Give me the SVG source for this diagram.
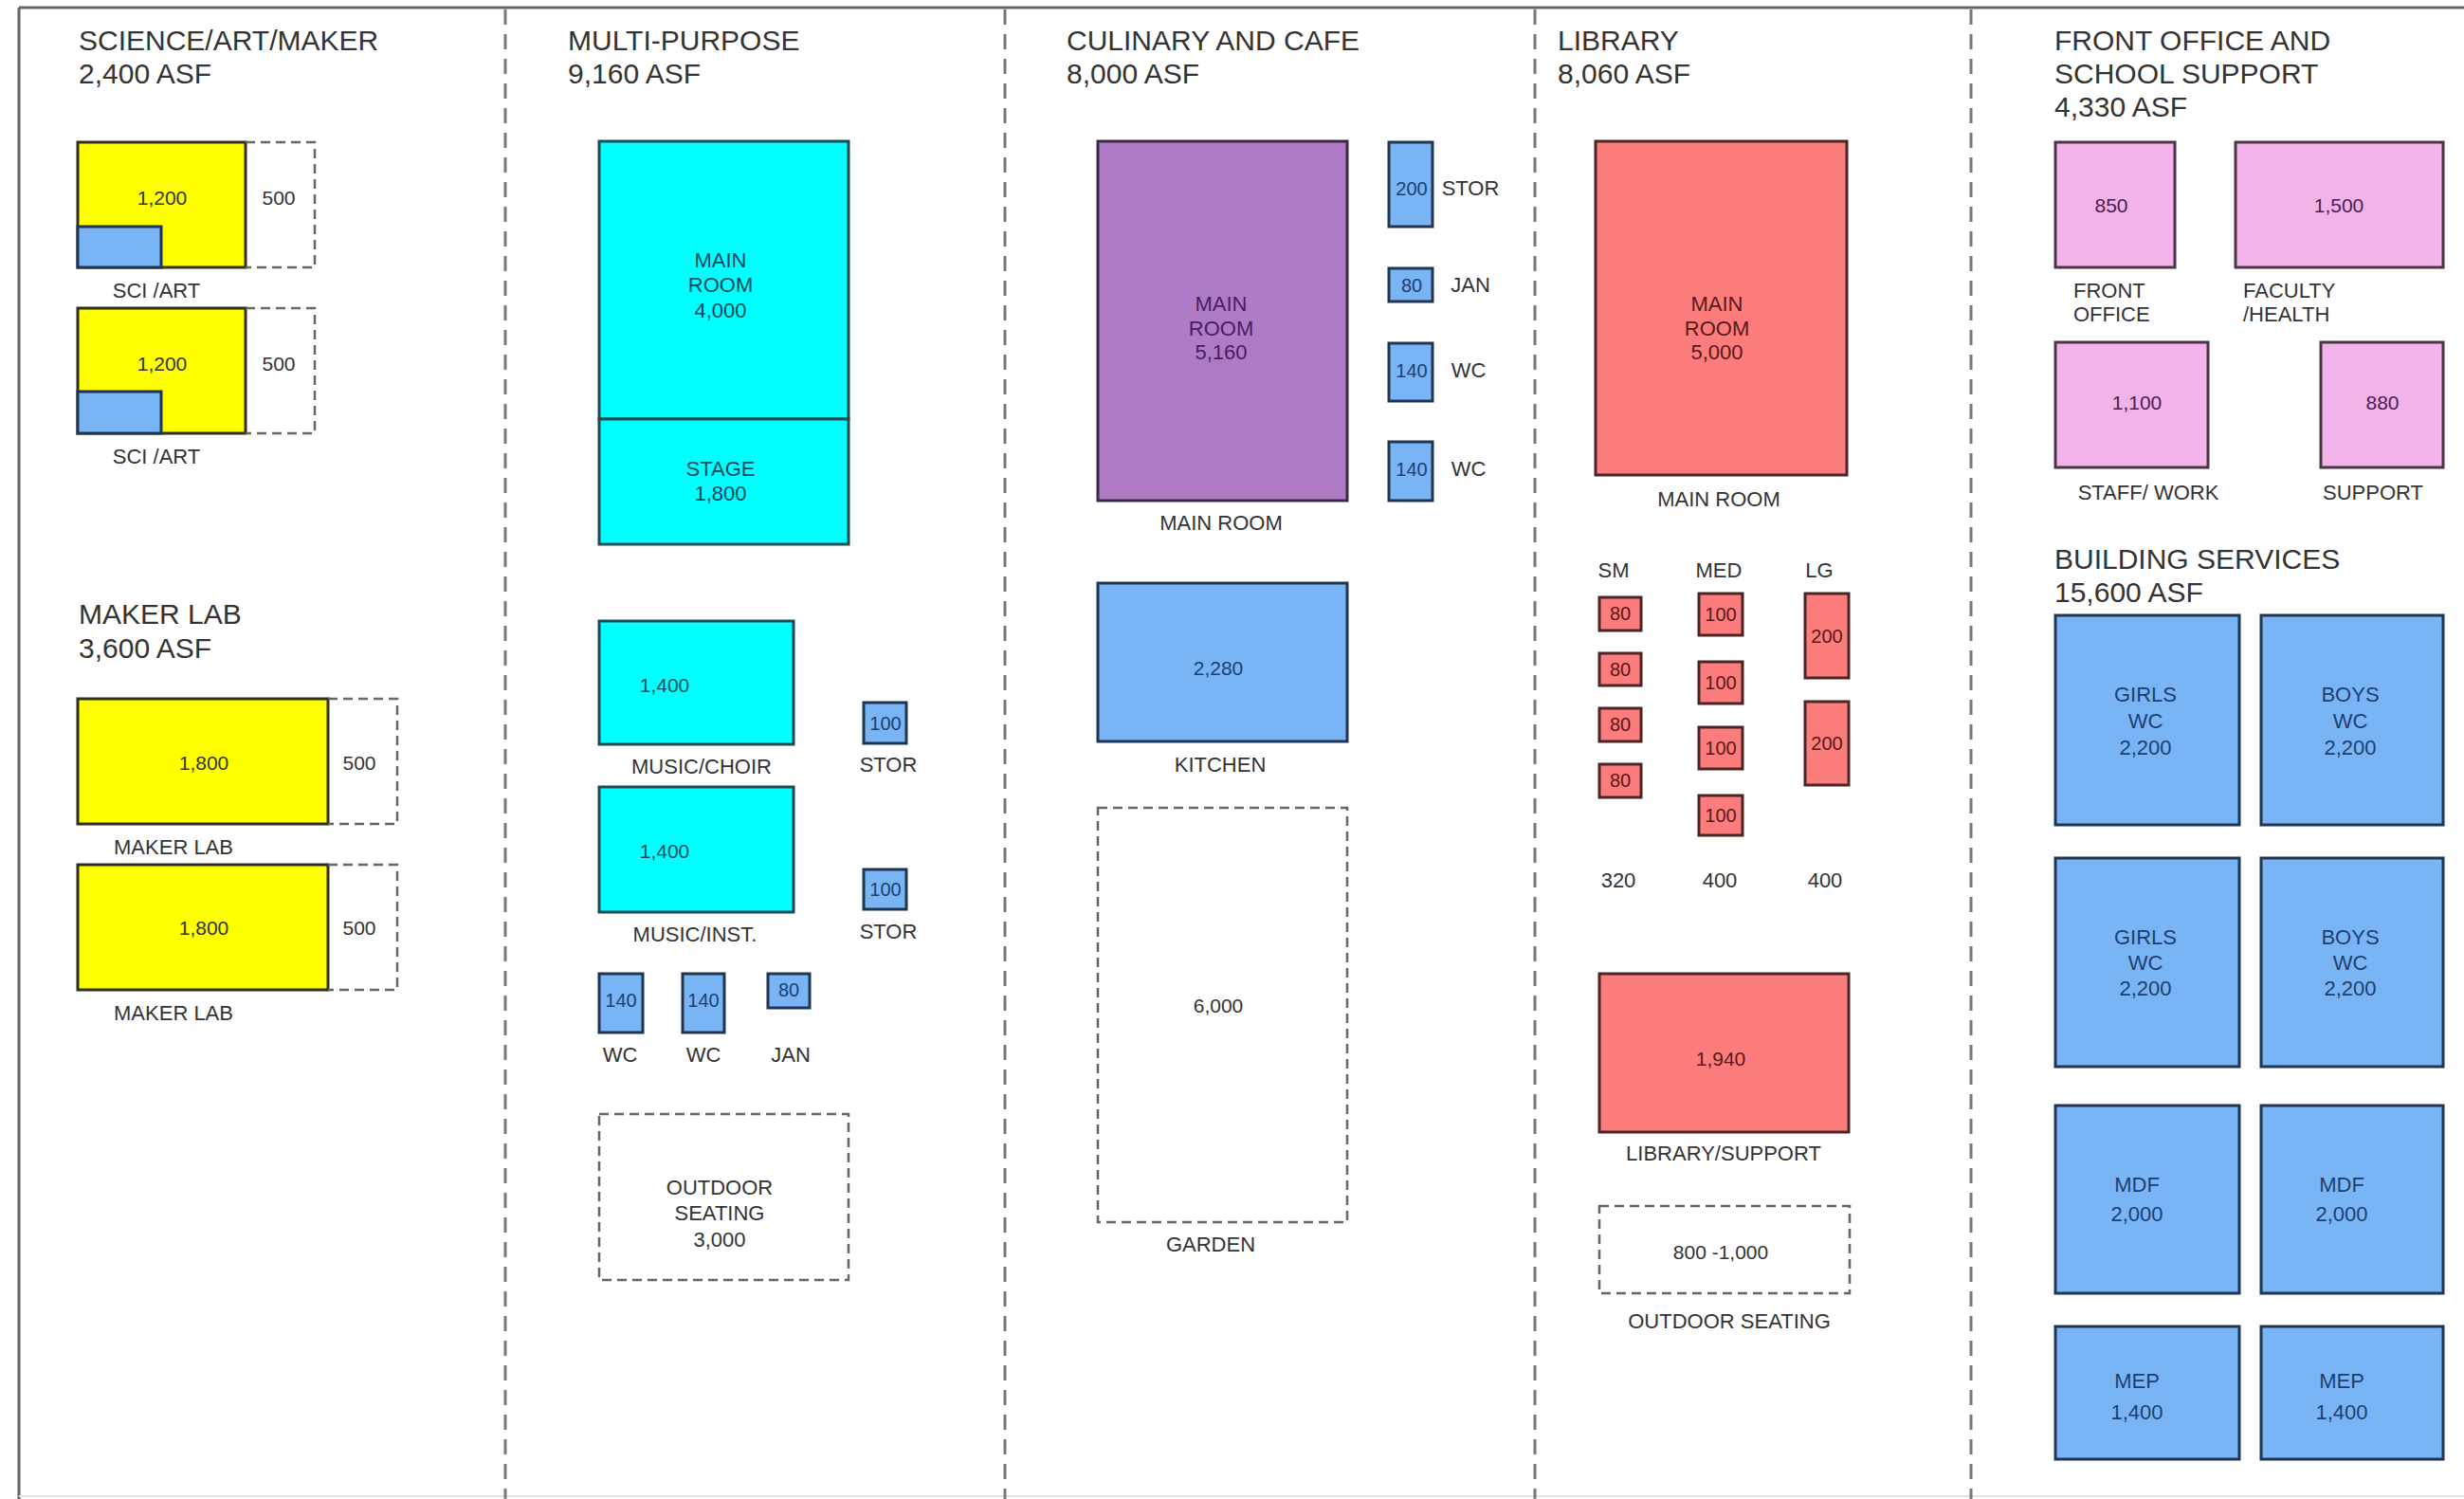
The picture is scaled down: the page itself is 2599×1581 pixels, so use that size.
<svg xmlns="http://www.w3.org/2000/svg" width="2599" height="1581" viewBox="0 0 2599 1581">
<style>
text{font-family:"Liberation Sans",Arial,sans-serif;}
.title{font-size:30px;fill:#333;}
.lbl{font-size:22px;fill:#333;text-anchor:middle;}
.lbll{font-size:22px;fill:#333;}
.num{font-size:21px;text-anchor:middle;}
.sn{font-size:20px;text-anchor:middle;}
.frame{stroke:#666;stroke-width:3;fill:none;}
.div{stroke:#777;stroke-width:3;stroke-dasharray:16 10;fill:none;}
.dash{stroke:#666;stroke-width:2.5;stroke-dasharray:10 6;fill:none;}
.yel{fill:#ffff00;stroke:#2f2f1a;stroke-width:3;}
.blu{fill:#79b5f4;stroke:#1f3552;stroke-width:3;}
.cya{fill:#00ffff;stroke:#1f4a55;stroke-width:3;}
.pur{fill:#b07bc6;stroke:#3a2a44;stroke-width:3;}
.red{fill:#fd7c7c;stroke:#4a2626;stroke-width:3;}
.pnk{fill:#f2b3e8;stroke:#4a3446;stroke-width:3;}
.ty{fill:#333;}
.tb{fill:#1c3f73;}
.tc{fill:#0b4a5a;}
.tp{fill:#4b1c63;}
.tr{fill:#5a1818;}
.tk{fill:#4a2050;}
</style>

<g id="frame">
  <line class="frame" x1="20" y1="8" x2="2599" y2="8"/>
  <line class="frame" x1="20" y1="8" x2="20" y2="1581"/>
  <line x1="20" y1="1578" x2="2599" y2="1578" stroke="#e2e2e2" stroke-width="2"/>
  <line class="div" x1="533" y1="10" x2="533" y2="1581"/>
  <line class="div" x1="1060" y1="10" x2="1060" y2="1581"/>
  <line class="div" x1="1619" y1="10" x2="1619" y2="1581"/>
  <line class="div" x1="2079" y1="10" x2="2079" y2="1581"/>
</g>
<g id="connectors"></g>

<!-- Column 1 -->
<g id="sci-title">
  <text class="title" x="83" y="53">SCIENCE/ART/MAKER</text>
  <text class="title" x="83" y="88">2,400 ASF</text>
</g>
<g id="sci-art-1">
  <rect class="yel" x="82" y="150" width="177" height="132"/>
  <rect class="blu" x="82" y="239" width="88" height="43"/>
  <path class="dash" d="M259 150H332V282H259"/>
  <text class="num ty" x="171" y="216">1,200</text>
  <text class="num ty" x="294" y="216">500</text>
  <text class="lbl" x="165" y="314">SCI /ART</text>
</g>
<g id="sci-art-2">
  <rect class="yel" x="82" y="325" width="177" height="132"/>
  <rect class="blu" x="82" y="413" width="88" height="44"/>
  <path class="dash" d="M259 325H332V457H259"/>
  <text class="num ty" x="171" y="391">1,200</text>
  <text class="num ty" x="294" y="391">500</text>
  <text class="lbl" x="165" y="489">SCI /ART</text>
</g>
<g id="maker-title">
  <text class="title" x="83" y="658">MAKER LAB</text>
  <text class="title" x="83" y="694">3,600 ASF</text>
</g>
<g id="maker-lab-1">
  <rect class="yel" x="82" y="737" width="264" height="132"/>
  <path class="dash" d="M346 737H419V869H346"/>
  <text class="num ty" x="215" y="812">1,800</text>
  <text class="num ty" x="379" y="812">500</text>
  <text class="lbl" x="183" y="901">MAKER LAB</text>
</g>
<g id="maker-lab-2">
  <rect class="yel" x="82" y="912" width="264" height="132"/>
  <path class="dash" d="M346 912H419V1044H346"/>
  <text class="num ty" x="215" y="986">1,800</text>
  <text class="num ty" x="379" y="986">500</text>
  <text class="lbl" x="183" y="1076">MAKER LAB</text>
</g>

<!-- Column 2 -->
<g id="mp-title">
  <text class="title" x="599" y="53">MULTI-PURPOSE</text>
  <text class="title" x="599" y="88">9,160 ASF</text>
</g>
<g id="mp-main">
  <rect class="cya" x="632" y="149" width="263" height="293"/>
  <text class="lbl tc" x="760" y="282">MAIN</text>
  <text class="lbl tc" x="760" y="308">ROOM</text>
  <text class="lbl tc" x="760" y="335">4,000</text>
</g>
<g id="mp-stage">
  <rect class="cya" x="632" y="442" width="263" height="132"/>
  <text class="lbl tc" x="760" y="502">STAGE</text>
  <text class="lbl tc" x="760" y="528">1,800</text>
</g>
<g id="music-choir">
  <rect class="cya" x="632" y="655" width="205" height="130"/>
  <text class="num tc" x="701" y="730">1,400</text>
  <text class="lbl" x="740" y="816">MUSIC/CHOIR</text>
</g>
<g id="music-inst">
  <rect class="cya" x="632" y="830" width="205" height="132"/>
  <text class="num tc" x="701" y="905">1,400</text>
  <text class="lbl" x="733" y="993">MUSIC/INST.</text>
</g>
<g id="mp-stor-1">
  <rect class="blu" x="911" y="741" width="45" height="43"/>
  <text class="sn tb" x="934" y="770">100</text>
  <text class="lbl" x="937" y="814">STOR</text>
</g>
<g id="mp-stor-2">
  <rect class="blu" x="911" y="917" width="45" height="42"/>
  <text class="sn tb" x="934" y="945">100</text>
  <text class="lbl" x="937" y="990">STOR</text>
</g>
<g id="mp-wc-1">
  <rect class="blu" x="632" y="1027" width="46" height="62"/>
  <text class="sn tb" x="655" y="1062">140</text>
  <text class="lbl" x="654" y="1120">WC</text>
</g>
<g id="mp-wc-2">
  <rect class="blu" x="720" y="1027" width="44" height="62"/>
  <text class="sn tb" x="742" y="1062">140</text>
  <text class="lbl" x="742" y="1120">WC</text>
</g>
<g id="mp-jan">
  <rect class="blu" x="810" y="1027" width="44" height="36"/>
  <text class="sn tb" x="832" y="1051">80</text>
  <text class="lbl" x="834" y="1120">JAN</text>
</g>
<g id="mp-outdoor">
  <rect class="dash" x="632" y="1175" width="263" height="175"/>
  <text class="lbl" x="759" y="1260">OUTDOOR</text>
  <text class="lbl" x="759" y="1287">SEATING</text>
  <text class="lbl" x="759" y="1315">3,000</text>
</g>

<!-- Column 3 -->
<g id="cul-title">
  <text class="title" x="1125" y="53">CULINARY AND CAFE</text>
  <text class="title" x="1125" y="88">8,000 ASF</text>
</g>
<g id="cul-main">
  <rect class="pur" x="1158" y="149" width="263" height="379"/>
  <text class="lbl tp" x="1288" y="328">MAIN</text>
  <text class="lbl tp" x="1288" y="354">ROOM</text>
  <text class="lbl tp" x="1288" y="379">5,160</text>
  <text class="lbl" x="1288" y="559">MAIN ROOM</text>
</g>
<g id="cul-stor">
  <rect class="blu" x="1465" y="150" width="46" height="89"/>
  <text class="sn tb" x="1489" y="206">200</text>
  <text class="lbl" x="1551" y="206">STOR</text>
</g>
<g id="cul-jan">
  <rect class="blu" x="1465" y="283" width="46" height="35"/>
  <text class="sn tb" x="1489" y="308">80</text>
  <text class="lbl" x="1551" y="308">JAN</text>
</g>
<g id="cul-wc-1">
  <rect class="blu" x="1465" y="362" width="46" height="61"/>
  <text class="sn tb" x="1489" y="398">140</text>
  <text class="lbl" x="1549" y="398">WC</text>
</g>
<g id="cul-wc-2">
  <rect class="blu" x="1465" y="466" width="46" height="62"/>
  <text class="sn tb" x="1489" y="502">140</text>
  <text class="lbl" x="1549" y="502">WC</text>
</g>
<g id="kitchen">
  <rect class="blu" x="1158" y="615" width="263" height="167"/>
  <text class="num tb" x="1285" y="712">2,280</text>
  <text class="lbl" x="1287" y="814">KITCHEN</text>
</g>
<g id="garden">
  <rect class="dash" x="1158" y="852" width="263" height="437"/>
  <text class="num ty" x="1285" y="1068">6,000</text>
  <text class="lbl" x="1277" y="1320">GARDEN</text>
</g>

<!-- Column 4 -->
<g id="lib-title">
  <text class="title" x="1643" y="53">LIBRARY</text>
  <text class="title" x="1643" y="88">8,060 ASF</text>
</g>
<g id="lib-main">
  <rect class="red" x="1683" y="149" width="265" height="352"/>
  <text class="lbl tr" x="1811" y="328">MAIN</text>
  <text class="lbl tr" x="1811" y="354">ROOM</text>
  <text class="lbl tr" x="1811" y="379">5,000</text>
  <text class="lbl" x="1813" y="534">MAIN ROOM</text>
</g>
<g id="lib-sm">
  <text class="lbl" x="1702" y="609">SM</text>
  <rect class="red" x="1687" y="630" width="44" height="35"/>
  <rect class="red" x="1687" y="689" width="44" height="34"/>
  <rect class="red" x="1687" y="747" width="44" height="35"/>
  <rect class="red" x="1687" y="806" width="44" height="35"/>
  <text class="sn tr" x="1709" y="654">80</text>
  <text class="sn tr" x="1709" y="713">80</text>
  <text class="sn tr" x="1709" y="771">80</text>
  <text class="sn tr" x="1709" y="830">80</text>
  <text class="lbl" x="1707" y="936">320</text>
</g>
<g id="lib-med">
  <text class="lbl" x="1813" y="609">MED</text>
  <rect class="red" x="1792" y="626" width="46" height="44"/>
  <rect class="red" x="1792" y="698" width="46" height="44"/>
  <rect class="red" x="1792" y="767" width="46" height="44"/>
  <rect class="red" x="1792" y="839" width="46" height="42"/>
  <text class="sn tr" x="1815" y="655">100</text>
  <text class="sn tr" x="1815" y="727">100</text>
  <text class="sn tr" x="1815" y="796">100</text>
  <text class="sn tr" x="1815" y="867">100</text>
  <text class="lbl" x="1814" y="936">400</text>
</g>
<g id="lib-lg">
  <text class="lbl" x="1919" y="609">LG</text>
  <rect class="red" x="1904" y="626" width="46" height="89"/>
  <rect class="red" x="1904" y="740" width="46" height="88"/>
  <text class="sn tr" x="1927" y="678">200</text>
  <text class="sn tr" x="1927" y="791">200</text>
  <text class="lbl" x="1925" y="936">400</text>
</g>
<g id="lib-support">
  <rect class="red" x="1687" y="1027" width="263" height="167"/>
  <text class="num tr" x="1815" y="1124">1,940</text>
  <text class="lbl" x="1818" y="1224">LIBRARY/SUPPORT</text>
</g>
<g id="lib-outdoor">
  <rect class="dash" x="1687" y="1272" width="264" height="92"/>
  <text class="num ty" x="1815" y="1328">800 -1,000</text>
  <text class="lbl" x="1824" y="1401">OUTDOOR SEATING</text>
</g>

<!-- Column 5 -->
<g id="fo-title">
  <text class="title" x="2167" y="53">FRONT OFFICE AND</text>
  <text class="title" x="2167" y="88">SCHOOL SUPPORT</text>
  <text class="title" x="2167" y="123">4,330 ASF</text>
</g>
<g id="front-office">
  <rect class="pnk" x="2168" y="150" width="126" height="132"/>
  <text class="num tk" x="2227" y="224">850</text>
  <text class="lbll" x="2187" y="314">FRONT</text>
  <text class="lbll" x="2187" y="339">OFFICE</text>
</g>
<g id="faculty-health">
  <rect class="pnk" x="2358" y="150" width="219" height="132"/>
  <text class="num tk" x="2467" y="224">1,500</text>
  <text class="lbll" x="2366" y="314">FACULTY</text>
  <text class="lbll" x="2366" y="339">/HEALTH</text>
</g>
<g id="staff-work">
  <rect class="pnk" x="2168" y="361" width="161" height="132"/>
  <text class="num tk" x="2254" y="432">1,100</text>
  <text class="lbl" x="2266" y="527">STAFF/ WORK</text>
</g>
<g id="support">
  <rect class="pnk" x="2448" y="361" width="129" height="132"/>
  <text class="num tk" x="2513" y="432">880</text>
  <text class="lbl" x="2503" y="527">SUPPORT</text>
</g>
<g id="bs-title">
  <text class="title" x="2167" y="600">BUILDING SERVICES</text>
  <text class="title" x="2167" y="635">15,600 ASF</text>
</g>
<g id="girls-wc-1">
  <rect class="blu" x="2168" y="649" width="194" height="221"/>
  <text class="lbl tb" x="2263" y="740">GIRLS</text>
  <text class="lbl tb" x="2263" y="768">WC</text>
  <text class="lbl tb" x="2263" y="796">2,200</text>
</g>
<g id="boys-wc-1">
  <rect class="blu" x="2385" y="649" width="192" height="221"/>
  <text class="lbl tb" x="2479" y="740">BOYS</text>
  <text class="lbl tb" x="2479" y="768">WC</text>
  <text class="lbl tb" x="2479" y="796">2,200</text>
</g>
<g id="girls-wc-2">
  <rect class="blu" x="2168" y="905" width="194" height="220"/>
  <text class="lbl tb" x="2263" y="996">GIRLS</text>
  <text class="lbl tb" x="2263" y="1023">WC</text>
  <text class="lbl tb" x="2263" y="1050">2,200</text>
</g>
<g id="boys-wc-2">
  <rect class="blu" x="2385" y="905" width="192" height="220"/>
  <text class="lbl tb" x="2479" y="996">BOYS</text>
  <text class="lbl tb" x="2479" y="1023">WC</text>
  <text class="lbl tb" x="2479" y="1050">2,200</text>
</g>
<g id="mdf-1">
  <rect class="blu" x="2168" y="1166" width="194" height="198"/>
  <text class="lbl tb" x="2254" y="1257">MDF</text>
  <text class="lbl tb" x="2254" y="1288">2,000</text>
</g>
<g id="mdf-2">
  <rect class="blu" x="2385" y="1166" width="192" height="198"/>
  <text class="lbl tb" x="2470" y="1257">MDF</text>
  <text class="lbl tb" x="2470" y="1288">2,000</text>
</g>
<g id="mep-1">
  <rect class="blu" x="2168" y="1399" width="194" height="140"/>
  <text class="lbl tb" x="2254" y="1464">MEP</text>
  <text class="lbl tb" x="2254" y="1497">1,400</text>
</g>
<g id="mep-2">
  <rect class="blu" x="2385" y="1399" width="192" height="140"/>
  <text class="lbl tb" x="2470" y="1464">MEP</text>
  <text class="lbl tb" x="2470" y="1497">1,400</text>
</g>
</svg>
